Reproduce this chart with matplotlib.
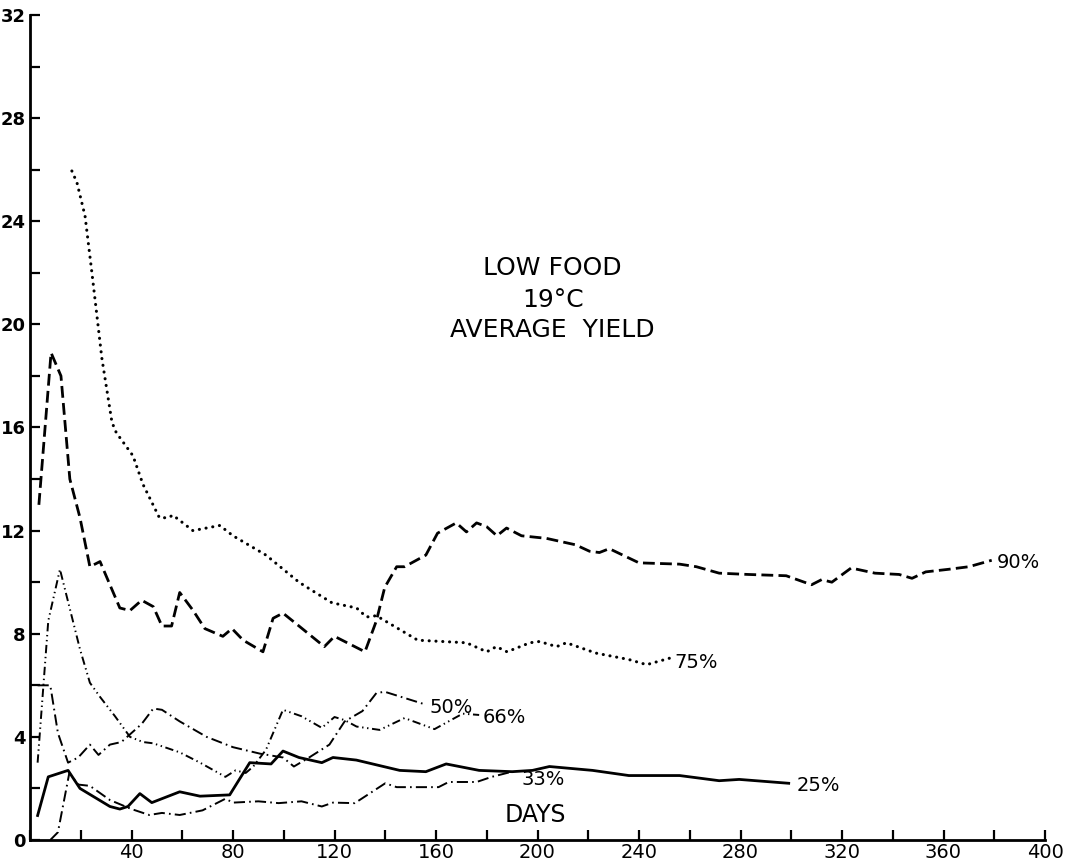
import matplotlib
matplotlib.use("Agg")
import matplotlib.pyplot as plt
from matplotlib.ticker import MultipleLocator

plt.rcParams['font.family'] = ['DejaVu Sans']
plt.rcParams['lines.scale_dashes'] = False

# ---- data (days, average yield) ----
days_90 = [3.5, 8.3, 12.2, 15.7, 19.7, 23.6, 27.6, 35.4, 39.4, 44, 48.6, 52, 55.8, 59, 64.3, 68.9,
           76, 79.6, 84, 91.8, 95.8, 99.7, 106, 116, 120, 132, 136.5, 139.8, 144.5, 147.6, 156,
           160.6, 168, 172, 176, 180, 184, 187.8, 193.7, 203.5, 215, 220.5, 224.4, 228.3, 240,
           256, 262.6, 271.6, 283, 298, 308, 312, 316, 323.6, 333, 342.5, 347.6, 353, 362, 370, 379]
yield_90 = [13.0, 18.9, 18.0, 14.0, 12.5, 10.6, 10.8, 9.0, 8.9, 9.3, 9.05, 8.3, 8.3, 9.6, 8.9, 8.2,
            7.9, 8.2, 7.75, 7.3, 8.6, 8.8, 8.3, 7.5, 7.9, 7.3, 8.5, 9.8, 10.6, 10.6, 11.05,
            11.9, 12.3, 11.95, 12.3, 12.15, 11.8, 12.1, 11.8, 11.7, 11.45, 11.2, 11.15, 11.3, 10.75,
            10.7, 10.6, 10.35, 10.3, 10.25, 9.9, 10.1, 10.0, 10.55, 10.35, 10.3, 10.15, 10.4, 10.5, 10.6, 10.85]

days_75 = [16.5, 18.5, 21.7, 24.4, 26.3, 28.3, 30.7, 32.3, 34, 40.6, 44.5, 51, 54.5, 56.3, 64.2, 74.8,
           80, 93, 106, 110, 119, 128.7, 132.6, 136.5, 152.8, 172, 180, 183.8, 188, 197, 200.8,
           207.5, 211.4, 223, 236, 243, 252]
yield_75 = [25.95, 25.5, 24.2, 22.0, 20.4, 18.7, 17.2, 16.2, 15.8, 14.9, 13.8, 12.5, 12.5, 12.6, 12.0, 12.2,
            11.8, 11.05, 10.0, 9.75, 9.2, 9.0, 8.65, 8.7, 7.75, 7.65, 7.3, 7.5, 7.3, 7.65, 7.7,
            7.5, 7.65, 7.25, 7.0, 6.8, 7.05]

days_66 = [3, 7.2, 11.8, 19.7, 23.6, 27.6, 33.5, 39.4, 44.5, 48.6, 59, 67, 77, 81, 85, 88, 93, 99.7,
           107, 115, 120, 124, 128.7, 137.8, 147.6, 159.4, 170.5, 177]
yield_66 = [3.0, 8.5, 10.5, 7.4, 6.1, 5.55, 4.8, 4.0, 3.8, 3.75, 3.4, 3.0, 2.45, 2.7, 2.6, 2.85, 3.5, 5.05,
            4.8, 4.35, 4.77, 4.65, 4.4, 4.27, 4.73, 4.3, 4.9, 4.85]

days_50 = [3, 8, 11, 15, 19, 23.6, 27, 31.5, 36, 44, 48.6, 52, 59, 69.6, 80, 90.6, 99.7, 104,
           110, 118, 124, 131, 136.5, 139.8, 156]
yield_50 = [6.0, 6.0, 4.15, 3.0, 3.2, 3.7, 3.3, 3.7, 3.8, 4.5, 5.1, 5.05, 4.6, 4.0, 3.6, 3.35, 3.2, 2.85,
            3.2, 3.7, 4.6, 5.0, 5.7, 5.75, 5.25]

days_33 = [8, 11, 15.5, 19, 23.6, 31.5, 40, 47, 52, 59, 68, 77, 80, 90, 98, 107, 115, 119.4, 128,
           140, 144.5, 161, 165, 176, 182, 190]
yield_33 = [0.0, 0.3, 2.6, 2.15, 2.1, 1.55, 1.2, 0.97, 1.05, 0.97, 1.15, 1.6, 1.45, 1.5, 1.43, 1.5, 1.3,
            1.45, 1.43, 2.2, 2.05, 2.05, 2.25, 2.25, 2.45, 2.65]

days_25 = [3, 7.2, 15, 19.7, 31.5, 35.4, 38.6, 43.3, 48, 59, 67, 78.7, 86.6, 95, 99.7, 106, 115,
           119.4, 128.6, 145.7, 156, 164, 177, 190, 198, 204.7, 221.7, 236, 244, 256, 271.6, 279.5, 299]
yield_25 = [0.95, 2.45, 2.7, 2.0, 1.3, 1.2, 1.3, 1.8, 1.45, 1.87, 1.7, 1.75, 3.0, 2.95, 3.45, 3.2, 3.0,
            3.2, 3.1, 2.7, 2.65, 2.95, 2.7, 2.65, 2.7, 2.85, 2.7, 2.5, 2.5, 2.5, 2.3, 2.35, 2.2]

series_labels = ["90%", "75%", "66%", "50%", "33%", "25%"]
label_pos = {"90%": (381, 10.75), "75%": (254, 6.9), "66%": (178.5, 4.77),
             "50%": (157.5, 5.13), "33%": (193.5, 2.33), "25%": (302, 2.13)}

x_ticks = list(range(40, 401, 40))
y_ticks = list(range(0, 33, 4))

# ---- figure ----
fig = plt.figure(figsize=(10.74, 8.6), dpi=100)
ax = fig.add_axes([30 / 1074, 20 / 860, 1015 / 1074, 825 / 860])

ax.plot(days_90, yield_90, color='black', lw=2.0, linestyle=(0, (8.5, 3.8)))
ax.plot(days_75, yield_75, color='black', lw=2.2, linestyle=(0, (0.1, 4.8)),
        dash_capstyle='round')
ax.plot(days_66, yield_66, color='black', lw=1.4, linestyle=(0, (6, 2.6, 1, 2.6, 1, 2.6)))
ax.plot(days_50, yield_50, color='black', lw=1.4, linestyle=(0, (8, 3, 1.2, 3)))
ax.plot(days_33, yield_33, color='black', lw=1.4, linestyle=(0, (8, 3, 1.2, 3)))
ax.plot(days_25, yield_25, color='black', lw=2.0, linestyle='-')

for lab in series_labels:
    x, y = label_pos[lab]
    ax.text(x, y, lab, fontsize=14, ha='left', va='center')

ax.text(206, 22.2, "LOW FOOD", fontsize=18, ha='center', va='center')
ax.text(206, 20.95, "19°C", fontsize=18, ha='center', va='center')
ax.text(206, 19.8, "AVERAGE  YIELD", fontsize=18, ha='center', va='center')
ax.text(199, 0.97, "DAYS", fontsize=17, ha='center', va='center')

ax.set_xlim(0, 400)
ax.set_ylim(0, 32)
ax.spines['top'].set_visible(False)
ax.spines['right'].set_visible(False)
ax.spines['left'].set_linewidth(2.0)
ax.spines['bottom'].set_linewidth(2.0)

ax.set_xticks(x_ticks)
ax.set_xticklabels([str(t) for t in x_ticks])
ax.xaxis.set_minor_locator(MultipleLocator(20))
ax.set_yticks(y_ticks)
ax.set_yticklabels([str(t) for t in y_ticks])
ax.yaxis.set_minor_locator(MultipleLocator(2))

ax.tick_params(axis='both', which='both', direction='in', width=1.6, color='black')
ax.tick_params(axis='both', which='major', length=7)
ax.tick_params(axis='both', which='minor', length=7)
ax.tick_params(axis='x', which='major', labelsize=14, pad=2)
ax.tick_params(axis='y', which='major', labelsize=13, pad=3)
for t in ax.get_yticklabels():
    t.set_fontweight('bold')

fig.savefig("out.png", dpi=100)
